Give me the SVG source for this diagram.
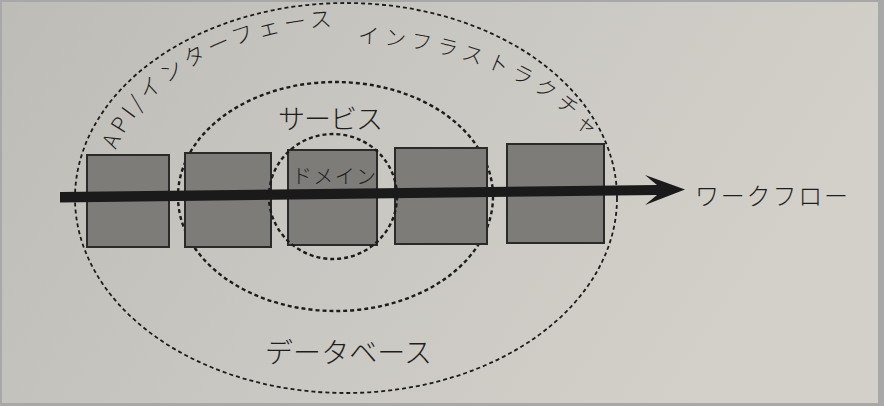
<svg xmlns="http://www.w3.org/2000/svg" width="884" height="406" viewBox="0 0 884 406">
  <defs>
    <linearGradient id="paper" x1="0" y1="0" x2="1" y2="0.3">
      <stop offset="0" stop-color="#bebcb6"/>
      <stop offset="0.5" stop-color="#c9c7c1"/>
      <stop offset="1" stop-color="#d2d0c9"/>
    </linearGradient>
    <path id="arcApi" d="M 116,150 A 240 172 0 0 1 360,26.5"/>
    <path id="arcInfra" d="M 352,43.04 A 262 155 0 0 1 600,160"/>
  </defs>
  <style>
    .layer { fill: none; stroke: #1c1c1c; stroke-dasharray: 4 3; }
    .box { fill: #7d7c79; stroke: #2a2a2a; stroke-width: 2; }
    .lbl { font-family: "Noto Sans CJK JP", "Noto Sans", sans-serif; font-weight: 300; fill: #1e1e1e; }
  </style>

  <rect x="0" y="0" width="884" height="406" fill="#a8a8a8"/>
  <rect x="2" y="2" width="876" height="401" fill="url(#paper)"/>

  <g id="layer-infrastructure">
    <ellipse class="layer" cx="346" cy="198" rx="271" ry="195" stroke-width="1.8"/>
    <text class="lbl" font-size="22"><textPath href="#arcApi" textLength="262" lengthAdjust="spacing">API/インターフェース</textPath></text>
    <text class="lbl" font-size="21"><textPath href="#arcInfra" startOffset="6" textLength="256" lengthAdjust="spacing">インフラストラクチャ</textPath></text>
    <text class="lbl" font-size="28" x="265" y="363" textLength="167" lengthAdjust="spacing">データベース</text>
  </g>

  <g id="layer-service">
    <ellipse class="layer" cx="335.5" cy="196.5" rx="157.5" ry="114.5" stroke-width="2.4"/>
    <text class="lbl" font-size="27" x="278" y="129" textLength="105" lengthAdjust="spacing">サービス</text>
  </g>

  <g id="box-1"><rect class="box" x="87" y="155" width="82" height="92"/></g>
  <g id="box-2"><rect class="box" x="185" y="153" width="86" height="94"/></g>
  <g id="box-3"><rect class="box" x="288" y="150" width="89" height="95"/></g>
  <g id="box-4"><rect class="box" x="395" y="148" width="92" height="96"/></g>
  <g id="box-5"><rect class="box" x="507" y="144" width="97" height="99" fill="#84837f"/></g>

  <g id="layer-domain">
    <ellipse class="layer" cx="333" cy="196.5" rx="64" ry="62.5" stroke-width="2.4"/>
    <text class="lbl" font-size="20" x="292" y="184" textLength="84" lengthAdjust="spacing">ドメイン</text>
  </g>

  <g id="connectors">
    <path d="M 60,192 L 657,185 L 645,175 L 685,189.5 L 645,205 L 657,195 L 60,202.5 Z" fill="#1a1a1a"/>
  </g>

  <g id="workflow-label">
    <text class="lbl" font-size="24" x="695" y="205" textLength="153" lengthAdjust="spacing">ワークフロー</text>
  </g>
</svg>
